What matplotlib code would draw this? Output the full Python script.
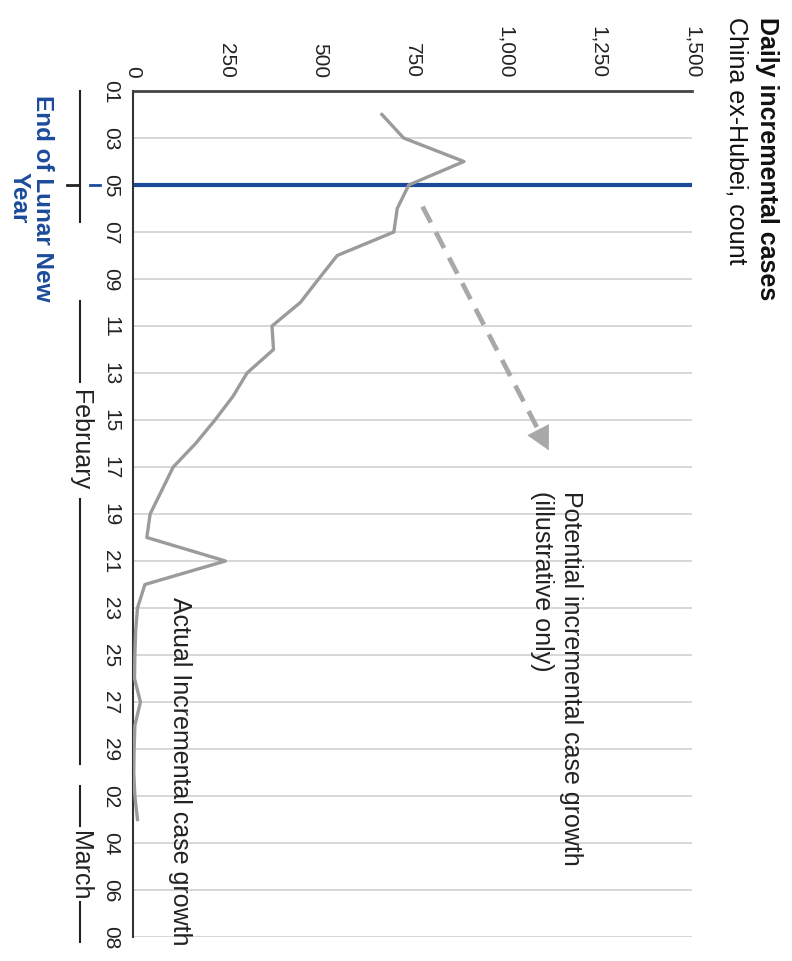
import pandas as pd
import matplotlib
matplotlib.use("Agg")
from matplotlib import pyplot as plt
from matplotlib import transforms

plt.rcParams["font.family"] = ["Liberation Sans", "DejaVu Sans"]

# Daily incremental cases, China ex-Hubei
dates = ["2020-02-02", "2020-02-03", "2020-02-04", "2020-02-05", "2020-02-06",
         "2020-02-07", "2020-02-08", "2020-02-09", "2020-02-10", "2020-02-11",
         "2020-02-12", "2020-02-13", "2020-02-14", "2020-02-15", "2020-02-16",
         "2020-02-17", "2020-02-18", "2020-02-19", "2020-02-20", "2020-02-21",
         "2020-02-22", "2020-02-23", "2020-02-24", "2020-02-25", "2020-02-26",
         "2020-02-27", "2020-02-28", "2020-02-29", "2020-03-01", "2020-03-02",
         "2020-03-03"]
cases = [668, 726, 888, 740, 709, 700, 548, 498, 449, 373,
         377, 306, 268, 220, 168, 108, 77, 46, 37, 248,
         32, 12, 7, 5, 4, 20, 5, 3, 2, 5,
         12]

value_ticks = [0, 250, 500, 750, 1000, 1250, 1500]
value_labels = ["0", "250", "500", "750", "1,000", "1,250", "1,500"]

date_ticks = ["2020-02-01", "2020-02-03", "2020-02-05", "2020-02-07", "2020-02-09",
              "2020-02-11", "2020-02-13", "2020-02-15", "2020-02-17", "2020-02-19",
              "2020-02-21", "2020-02-23", "2020-02-25", "2020-02-27", "2020-02-29",
              "2020-03-02", "2020-03-04", "2020-03-06", "2020-03-08"]
date_labels = ["01", "03", "05", "07", "09", "11", "13", "15", "17", "19",
               "21", "23", "25", "27", "29", "02", "04", "06", "08"]

lunar_date = "2020-02-05"
# illustrative "potential" arrow: start and end (date, cases)
potential_dates = ["2020-02-05 22:00", "2020-02-16 07:00"]
potential_cases = [777, 1116]

origin = pd.Timestamp("2020-02-01")


def to_day(d):
    return (pd.Timestamp(d) - origin).total_seconds() / 86400


days = [to_day(d) for d in dates]
tick_days = [to_day(d) for d in date_ticks]
lunar_day = to_day(lunar_date)
pot_days = [to_day(d) for d in potential_dates]

W, H = 792, 962
fig = plt.figure(figsize=(W / 100, H / 100), dpi=100)
ax = fig.add_axes([133 / W, 1 - 938 / H, 559 / W, 846 / H])

ax.set_xlim(0, 1500)
ax.set_ylim(tick_days[-1], tick_days[0])

# grid lines, every other day
for t in tick_days[1:]:
    ax.axhline(t, color="#cdd2d6", lw=1.2, zorder=0)

for side in ["right", "bottom"]:
    ax.spines[side].set_visible(False)
ax.spines["top"].set_color("#444444")
ax.spines["top"].set_linewidth(2)
ax.spines["left"].set_color("#333333")
ax.spines["left"].set_linewidth(1.5)

ax.xaxis.tick_top()
ax.set_xticks(value_ticks)
ax.set_xticklabels(value_labels, rotation=-90, fontsize=15, color="#222222")
ax.tick_params(axis="x", length=0, pad=10)
for lab in ax.get_xticklabels():
    lab.set_va("bottom")

ax.set_yticks(tick_days)
ax.set_yticklabels(date_labels, rotation=-90, fontsize=15, color="#222222")
ax.tick_params(axis="y", length=0, pad=9)
for lab in ax.get_yticklabels():
    lab.set_va("center")

# end of Lunar New Year
ax.axhline(lunar_day, color="#1c4b9b", lw=3, zorder=2)

# actual cases
ax.plot(cases, days, color="#9b9b9b", lw=2.4, zorder=3)

# potential growth arrow: dashed shaft plus a solid head
f = 0.93
mid_c = potential_cases[0] + f * (potential_cases[1] - potential_cases[0])
mid_d = pot_days[0] + f * (pot_days[1] - pot_days[0])
ax.plot([potential_cases[0], mid_c], [pot_days[0], mid_d], color="#a8a8a8",
        lw=3.4, dashes=(3.8, 2.3), solid_capstyle="butt", zorder=3)
ax.annotate("", xy=(potential_cases[1], pot_days[1]), xytext=(mid_c, mid_d),
            arrowprops=dict(arrowstyle="-|>,head_length=0.8,head_width=0.42",
                            color="#a8a8a8", lw=0.5, shrinkA=0, shrinkB=0,
                            mutation_scale=20),
            zorder=3)

ax.text(1137, 17.0, "Potential incremental case growth\n(illustrative only)",
        rotation=-90, ha="center", va="top", multialignment="left",
        fontsize=18, color="#222222", linespacing=1.25)
ax.text(126, 21.5, "Actual Incremental case growth", rotation=-90,
        ha="center", va="top", fontsize=18, color="#222222")

# month brackets and lunar marker left of the date labels
trans = transforms.blended_transform_factory(ax.transAxes, ax.transData)
bx = -0.094
segments = [(0, 5.57), (8.94, 12.38), (17.36, 28.64), (29.57, 31.28), (34.5, 36.2)]
for a, b in segments:
    ax.plot([bx, bx], [a, b], transform=trans, clip_on=False, color="#222222", lw=1.5)
ax.plot([-0.118, -0.096], [lunar_day, lunar_day], transform=trans, clip_on=False,
        color="#222222", lw=2)
ax.plot([-0.077, -0.059], [lunar_day, lunar_day], transform=trans, clip_on=False,
        color="#1c4b9b", lw=2)
ax.text(bx, 14.8, "February", transform=trans, rotation=-90, ha="center",
        va="center", fontsize=18, color="#222222")
ax.text(bx, 32.94, "March", transform=trans, rotation=-90, ha="center",
        va="center", fontsize=18, color="#222222")

fig.text(31 / W, 1 - 198 / H, "End of Lunar New\nYear", rotation=-90,
         ha="center", va="center", multialignment="center", fontsize=17.5,
         fontweight="bold", color="#1c4b9b", linespacing=1.05)

# title block
fig.text(767 / W, 1 - 17 / H, "Daily incremental cases", rotation=-90,
         ha="center", va="top", fontsize=18, fontweight="bold", color="#111111")
fig.text(737 / W, 1 - 17 / H, "China ex-Hubei, count", rotation=-90,
         ha="center", va="top", fontsize=18, color="#111111")

fig.savefig("out.png", dpi=100)
